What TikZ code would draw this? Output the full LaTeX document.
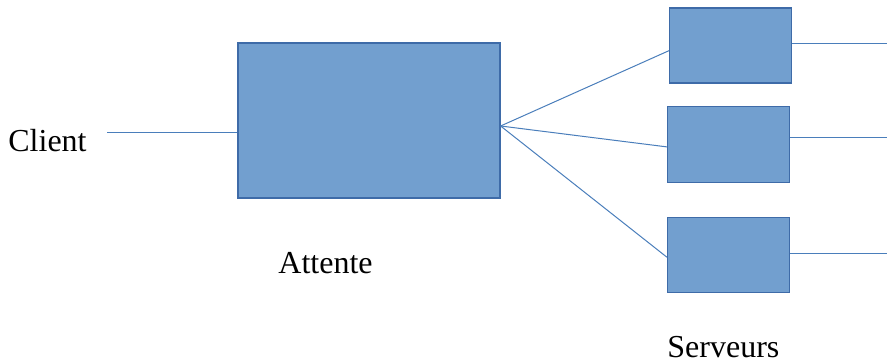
\documentclass[tikz,border=0pt]{standalone}
\usepackage{fontspec}
\setmainfont{Liberation Serif}
\usetikzlibrary{positioning}
\definecolor{boxfill}{HTML}{729FCF}
\definecolor{boxline}{HTML}{3E6BA8}
\definecolor{wire}{HTML}{4A7EBB}

\begin{document}
\begin{tikzpicture}[x=0.5pt, y=-0.5pt,
    box/.style={draw=boxline, fill=boxfill, line width=0.6pt, inner sep=0pt},
    wireline/.style={wire, line width=0.5pt},
    lbl/.style={font=\fontsize{16}{19}\selectfont, inner sep=0pt, anchor=base west}]
  \useasboundingbox (0,0) rectangle (887,363);

  % file d'attente et serveurs
  \node[box, minimum width=131pt, minimum height=77.5pt] (attente) at (369,120.5) {};
  \node[box, minimum width=61pt, minimum height=37.5pt] (srv1) at (730.5,45.5) {};
  \node[box, minimum width=61pt, minimum height=37.8pt] (srv2) at (728.5,144.5) {};
  \node[box, minimum width=61pt, minimum height=37.5pt] (srv3) at (728.5,255) {};

  \node[lbl] (client) at (8,152) {Client};
  \node[lbl] (attlbl) at (278,273) {Attente};
  \node[lbl] (srvlbl) at (667,357) {Serveurs};

  \coordinate (in) at (107,132.7);
  \coordinate (fan) at ([yshift=-2.75pt]attente.east);
  \coordinate (out1) at (887,43.3);
  \coordinate (out2) at (887,138);
  \coordinate (out3) at (887,253.7);

  \draw[wireline] (in) -- (in -| attente.west);
  \draw[wireline] (fan) -- ([yshift=-2.6pt]srv1.west);
  \draw[wireline] (fan) -- ([yshift=-1.2pt]srv2.west);
  \draw[wireline] (fan) -- ([yshift=-1.1pt]srv3.west);
  \draw[wireline] (out1 -| srv1.east) -- (out1);
  \draw[wireline] (out2 -| srv2.east) -- (out2);
  \draw[wireline] (out3 -| srv3.east) -- (out3);
\end{tikzpicture}
\end{document}
